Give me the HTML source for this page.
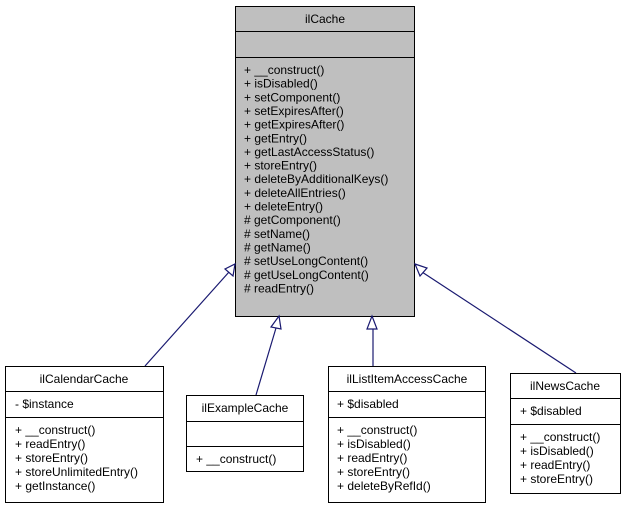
<!DOCTYPE html>
<html><head><meta charset="utf-8"><style>
body{margin:0;background:#fff;}
svg text{font-family:"Liberation Sans",sans-serif;font-size:12px;fill:#000;}
</style></head><body>
<svg width="626" height="507" viewBox="0 0 626 507" xmlns="http://www.w3.org/2000/svg">
<!-- main -->
<rect x="235.5" y="6.5" width="179" height="310" fill="#bfbfbf" stroke="#000"/>
<line x1="235" y1="31.5" x2="415" y2="31.5" stroke="#000"/>
<line x1="235" y1="57.5" x2="415" y2="57.5" stroke="#000"/>
<text x="325" y="23" text-anchor="middle">ilCache</text>
<g>
<text x="244" y="74">+ __construct()</text>
<text x="244" y="87.65">+ isDisabled()</text>
<text x="244" y="101.3">+ setComponent()</text>
<text x="244" y="114.95">+ setExpiresAfter()</text>
<text x="244" y="128.6">+ getExpiresAfter()</text>
<text x="244" y="142.25">+ getEntry()</text>
<text x="244" y="155.9">+ getLastAccessStatus()</text>
<text x="244" y="169.55">+ storeEntry()</text>
<text x="244" y="183.2">+ deleteByAdditionalKeys()</text>
<text x="244" y="196.85">+ deleteAllEntries()</text>
<text x="244" y="210.5">+ deleteEntry()</text>
<text x="244" y="224.15"># getComponent()</text>
<text x="244" y="237.8"># setName()</text>
<text x="244" y="251.45"># getName()</text>
<text x="244" y="265.1"># setUseLongContent()</text>
<text x="244" y="278.75"># getUseLongContent()</text>
<text x="244" y="292.4"># readEntry()</text>
</g>
<!-- connectors -->
<g stroke="#191970" stroke-width="1.2" fill="none">
<line x1="145" y1="366" x2="229" y2="272"/>
<line x1="256" y1="395" x2="276" y2="328"/>
<line x1="373" y1="366" x2="373" y2="328"/>
<line x1="576" y1="373" x2="422" y2="272"/>
</g>
<g stroke="#191970" stroke-width="1.2" fill="#fff">
<polygon points="235,264 233,276 225,269"/>
<polygon points="279,316 281,329 271,327"/>
<polygon points="372,316 377,329 367,329"/>
<polygon points="415,264 427,268 420,276"/>
</g>
<!-- calendar -->
<rect x="5.5" y="366.5" width="158" height="136" fill="#fff" stroke="#000"/>
<line x1="5" y1="391.5" x2="164" y2="391.5" stroke="#000"/>
<line x1="5" y1="417.5" x2="164" y2="417.5" stroke="#000"/>
<text x="84" y="383" text-anchor="middle">ilCalendarCache</text>
<text x="15" y="408">- $instance</text>
<text x="15" y="434">+ __construct()</text>
<text x="15" y="448">+ readEntry()</text>
<text x="15" y="462">+ storeEntry()</text>
<text x="15" y="476">+ storeUnlimitedEntry()</text>
<text x="15" y="490">+ getInstance()</text>
<!-- example -->
<rect x="186.5" y="395.5" width="117" height="76" fill="#fff" stroke="#000"/>
<line x1="186" y1="421.5" x2="304" y2="421.5" stroke="#000"/>
<line x1="186" y1="446.5" x2="304" y2="446.5" stroke="#000"/>
<text x="245" y="412" text-anchor="middle">ilExampleCache</text>
<text x="196" y="463">+ __construct()</text>
<!-- listitem -->
<rect x="328.5" y="366.5" width="157" height="136" fill="#fff" stroke="#000"/>
<line x1="328" y1="391.5" x2="486" y2="391.5" stroke="#000"/>
<line x1="328" y1="417.5" x2="486" y2="417.5" stroke="#000"/>
<text x="407" y="383" text-anchor="middle">ilListItemAccessCache</text>
<text x="337" y="408">+ $disabled</text>
<text x="337" y="434">+ __construct()</text>
<text x="337" y="448">+ isDisabled()</text>
<text x="337" y="462">+ readEntry()</text>
<text x="337" y="476">+ storeEntry()</text>
<text x="337" y="490">+ deleteByRefId()</text>
<!-- news -->
<rect x="510.5" y="373.5" width="110" height="120" fill="#fff" stroke="#000"/>
<line x1="510" y1="398.5" x2="621" y2="398.5" stroke="#000"/>
<line x1="510" y1="424.5" x2="621" y2="424.5" stroke="#000"/>
<text x="565" y="390" text-anchor="middle">ilNewsCache</text>
<text x="520" y="415">+ $disabled</text>
<text x="520" y="441">+ __construct()</text>
<text x="520" y="455">+ isDisabled()</text>
<text x="520" y="469">+ readEntry()</text>
<text x="520" y="483">+ storeEntry()</text>
</svg>
</body></html>
